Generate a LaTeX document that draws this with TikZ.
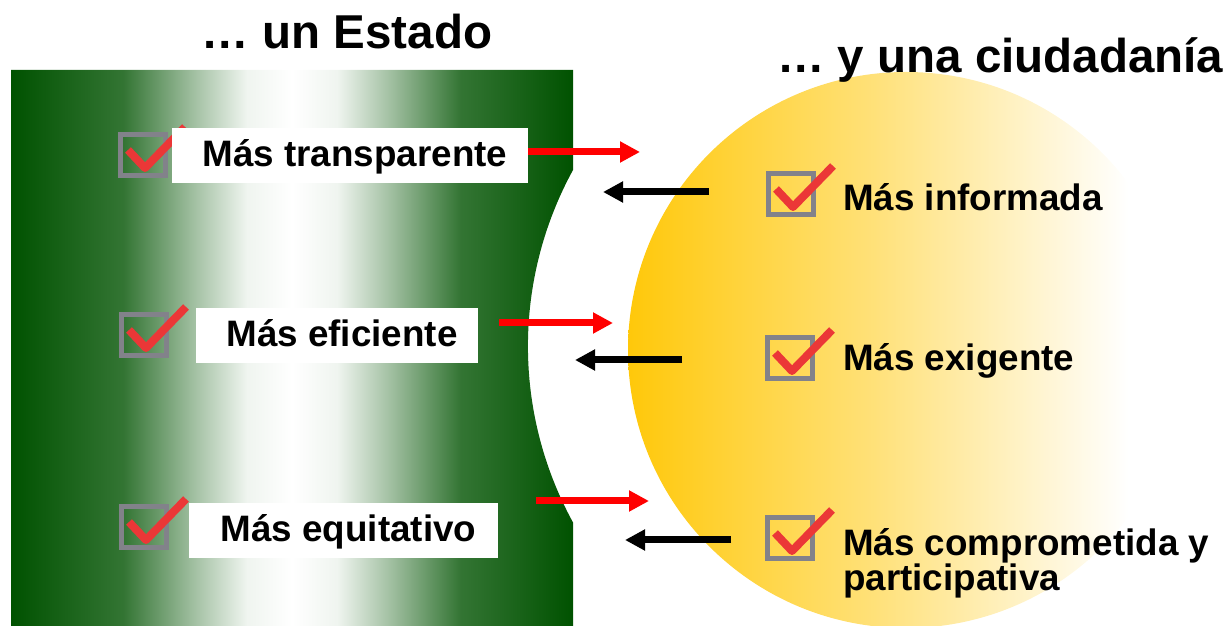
\documentclass[tikz,border=0pt]{standalone}
\usepackage{fontspec}
\setmainfont{Liberation Sans}
\usetikzlibrary{arrows.meta, positioning}

\definecolor{darkgreen}{RGB}{0,82,0}
\definecolor{gold}{RGB}{255,200,10}
\definecolor{tickred}{RGB}{235,55,55}
\definecolor{boxgray}{RGB}{130,130,138}
\colorlet{greenA}{darkgreen!80!white}
\colorlet{greenB}{darkgreen!35!white}
\colorlet{greenC}{darkgreen!6!white}
\colorlet{goldA}{gold!55!white}
\pgfdeclarehorizontalshading{greenfade}{100bp}{color(0bp)=(darkgreen); color(25bp)=(darkgreen); color(35bp)=(greenA); color(41.5bp)=(greenB); color(46bp)=(greenC); color(50bp)=(white); color(54bp)=(greenC); color(58.5bp)=(greenB); color(65bp)=(greenA); color(75bp)=(darkgreen); color(100bp)=(darkgreen)}
\pgfdeclarehorizontalshading{goldfade}{100bp}{color(0bp)=(gold); color(25bp)=(gold); color(47bp)=(goldA); color(70bp)=(white); color(100bp)=(white)}

\tikzset{
  bigtext/.style={font=\fontsize{47.5}{50}\selectfont\bfseries, inner sep=0pt},
  infotext/.style={font=\fontsize{36.8}{35}\selectfont\bfseries, inner sep=0pt, align=left},
  labelbox/.style={fill=white, font=\fontsize{36.8}{35}\selectfont\bfseries,
    inner xsep=0pt, inner ysep=8pt, text height=31pt, text depth=8pt},
  redarrow/.style={red, line width=7pt, -{Triangle[length=20pt,width=20pt]}},
  blackarrow/.style={black, line width=7pt, -{Triangle[length=20pt,width=20pt]}},
  chk/.pic={
    \draw[boxgray, line width=5pt] (2.5,-2.5) rectangle (47.5,-43.5);
    \draw[tickred, line width=8pt, line join=round] (10,-18) -- (27,-36) -- (67,5);
  }
}

\begin{document}
\begin{tikzpicture}[x=1pt, y=1pt]
\useasboundingbox (0,0) rectangle (1228,626);
%Backgrounds:
\begin{scope}
\clip (0,0) rectangle (1228,626);
\shade[shading=goldfade] (906,276) circle[radius=278];
\shade[shading=greenfade] (11,556) -- (573,556) -- (573,456)
  arc[start angle=151.3, end angle=208.7, radius=367] -- (573,0) -- (11,0) -- cycle;
\end{scope}

\node (estado) [bigtext, anchor=base] at (347,577) {… un Estado};
\node (ciudadania) [bigtext, anchor=base west] at (777,553) {… y una ciudadanía};

%Estado:
\pic at (118,494) {chk};
\pic at (119,314) {chk};
\pic at (119,122) {chk};
\node (transparente) [labelbox, minimum width=356pt] at (350,470.5) {\hspace{10pt}Más transparente};
\node (eficiente) [labelbox, minimum width=282pt] at (337,290.5) {\hspace{10pt}Más eficiente};
\node (equitativo) [labelbox, minimum width=309pt] at (343.5,95.5) {\hspace{10pt}Más equitativo};

%Ciudadania:
\pic at (766,455) {chk};
\pic at (765,291) {chk};
\pic at (765,111) {chk};
\node (informada) [infotext, anchor=base west] at (843,415) {Más informada};
\node (exigente) [infotext, anchor=base west] at (843,255) {Más exigente};
\node (comprometida) [infotext, anchor=base west] at (843,35) {Más comprometida y\\participativa};

\coordinate (R1a) at (528,474);
\coordinate (R1b) at (640,474);
\coordinate (B1a) at (709,434);
\coordinate (B1b) at (603,434);
\coordinate (R2a) at (499,303);
\coordinate (R2b) at (613,303);
\coordinate (B2a) at (682,266);
\coordinate (B2b) at (575,266);
\coordinate (R3a) at (536,125);
\coordinate (R3b) at (649,125);
\coordinate (B3a) at (731,86);
\coordinate (B3b) at (625,86);

%Arrows:
\path
(R1a) edge [redarrow] (R1b)
(B1a) edge [blackarrow] (B1b)
(R2a) edge [redarrow] (R2b)
(B2a) edge [blackarrow] (B2b)
(R3a) edge [redarrow] (R3b)
(B3a) edge [blackarrow] (B3b)
;
\end{tikzpicture}
\end{document}
